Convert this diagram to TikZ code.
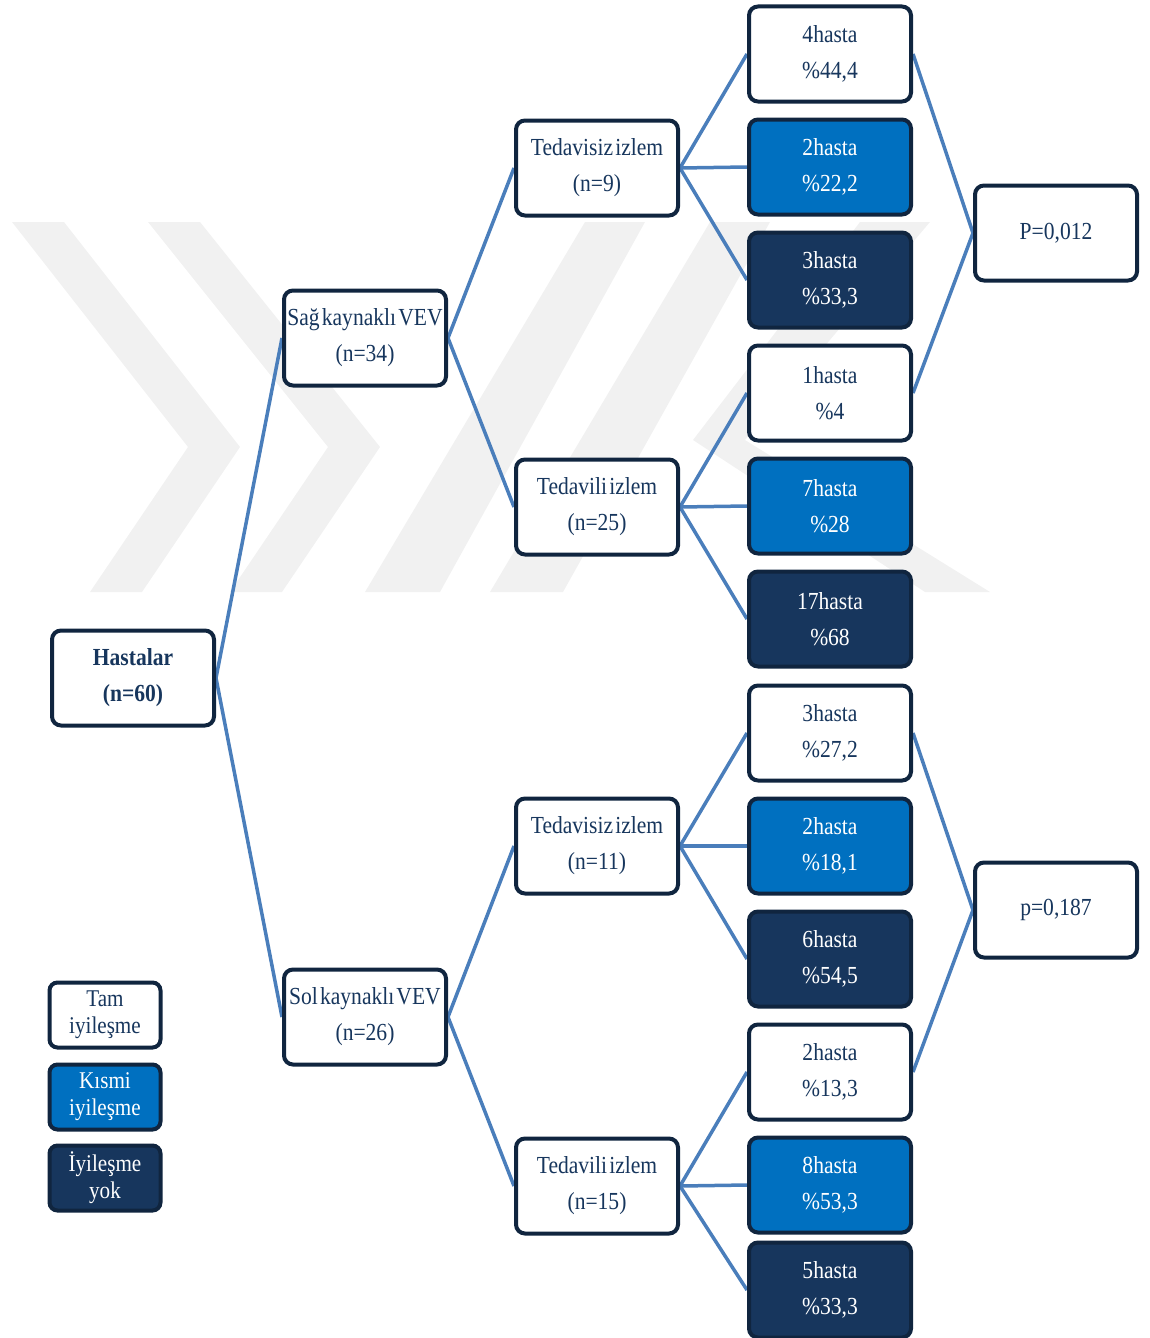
\documentclass[tikz,border=0pt]{standalone}
\usepackage{fontspec}
\setmainfont{Liberation Serif}[FakeStretch=0.88,WordSpace=0.4]
\definecolor{navy}{HTML}{17365D}
\definecolor{kblue}{HTML}{0070C0}
\definecolor{bord}{HTML}{10253F}
\definecolor{conn}{HTML}{4A7EBB}
\definecolor{wm}{HTML}{F1F1F1}
\pgfdeclarelayer{bg}
\pgfsetlayers{bg,main}
\tikzset{
  box/.style={draw=bord, line width=4pt, rounded corners=9pt, minimum width=162pt, minimum height=95pt, align=center, inner sep=0pt, font=\fontsize{24.5}{36}\selectfont},
  wbox/.style={box, fill=white, text=navy},
  bbox/.style={box, fill=kblue, text=white},
  dbox/.style={box, fill=navy, text=white},
  lgd/.style={draw=bord, line width=4pt, rounded corners=8pt, minimum width=111pt, minimum height=65pt, align=center, inner sep=0pt, font=\fontsize{24}{27}\selectfont},
  link/.style={draw=conn, line width=3.5pt},
  wmark/.style={fill=wm, draw=none}
}
\begin{document}
\begin{tikzpicture}[x=1pt,y=-1pt]
\useasboundingbox (0,0) rectangle (1150,1338);
% nodes
\node[wbox, font=\fontsize{24.5}{36}\selectfont\bfseries] (root) at (133,678) {Hastalar\\(n=60)};
\node[wbox] (sag) at (365,338) {Sağ kaynaklı VEV\\(n=34)};
\node[wbox] (sol) at (365,1017) {Sol kaynaklı VEV\\(n=26)};
\node[wbox] (t1) at (597,168) {Tedavisiz izlem\\(n=9)};
\node[wbox] (t2) at (597,507) {Tedavili izlem\\(n=25)};
\node[wbox] (t3) at (597,846) {Tedavisiz izlem\\(n=11)};
\node[wbox] (t4) at (597,1186) {Tedavili izlem\\(n=15)};
\node[wbox] (r1) at (830,54) {4hasta\\\%44,4};
\node[bbox] (r2) at (830,167) {2hasta\\\%22,2};
\node[dbox] (r3) at (830,280) {3hasta\\\%33,3};
\node[wbox] (r4) at (830,393) {1hasta\\\%4};
\node[bbox] (r5) at (830,506) {7hasta\\\%28};
\node[dbox] (r6) at (830,619) {17hasta\\\%68};
\node[wbox] (r7) at (830,733) {3hasta\\\%27,2};
\node[bbox] (r8) at (830,846) {2hasta\\\%18,1};
\node[dbox] (r9) at (830,959) {6hasta\\\%54,5};
\node[wbox] (r10) at (830,1072) {2hasta\\\%13,3};
\node[bbox] (r11) at (830,1185) {8hasta\\\%53,3};
\node[dbox] (r12) at (830,1290) {5hasta\\\%33,3};
\node[wbox] (p1) at (1056,233) {P=0,012};
\node[wbox] (p2) at (1056,910) {p=0,187};
\node[lgd, fill=white, text=navy] (l1) at (105,1015) {Tam\\iyileşme};
\node[lgd, fill=kblue, text=white] (l2) at (105,1097) {Kısmi\\iyileşme};
\node[lgd, fill=navy, text=white] (l3) at (105,1178) {İyileşme\\yok};
\begin{pgfonlayer}{bg}
% watermark
\fill[wmark] (12,222) -- (64,222) -- (240,447) -- (142,592) -- (90,592) -- (188,447) -- cycle;
\fill[wmark] (148,222) -- (200,222) -- (380,447) -- (282,592) -- (230,592) -- (328,447) -- cycle;
\fill[wmark] (365,592) -- (440,592) -- (645,222) -- (585,222) -- cycle;
\fill[wmark] (490,592) -- (563,592) -- (770,222) -- (710,222) -- cycle;
\fill[wmark] (860,222) -- (930,222) -- (745,440) -- (990,592) -- (925,592) -- (693,440) -- cycle;
% connectors
\draw[link] (root.east) -- (sag.west);
\draw[link] (root.east) -- (sol.west);
\draw[link] (sag.east) -- (t1.west);
\draw[link] (sag.east) -- (t2.west);
\draw[link] (sol.east) -- (t3.west);
\draw[link] (sol.east) -- (t4.west);
\draw[link] (t1.east) -- (r1.west);
\draw[link] (t1.east) -- (r2.west);
\draw[link] (t1.east) -- (r3.west);
\draw[link] (t2.east) -- (r4.west);
\draw[link] (t2.east) -- (r5.west);
\draw[link] (t2.east) -- (r6.west);
\draw[link] (t3.east) -- (r7.west);
\draw[link] (t3.east) -- (r8.west);
\draw[link] (t3.east) -- (r9.west);
\draw[link] (t4.east) -- (r10.west);
\draw[link] (t4.east) -- (r11.west);
\draw[link] (t4.east) -- (r12.west);
\draw[link] (r1.east) -- (p1.west);
\draw[link] (r4.east) -- (p1.west);
\draw[link] (r7.east) -- (p2.west);
\draw[link] (r10.east) -- (p2.west);
\end{pgfonlayer}
\end{tikzpicture}
\end{document}
